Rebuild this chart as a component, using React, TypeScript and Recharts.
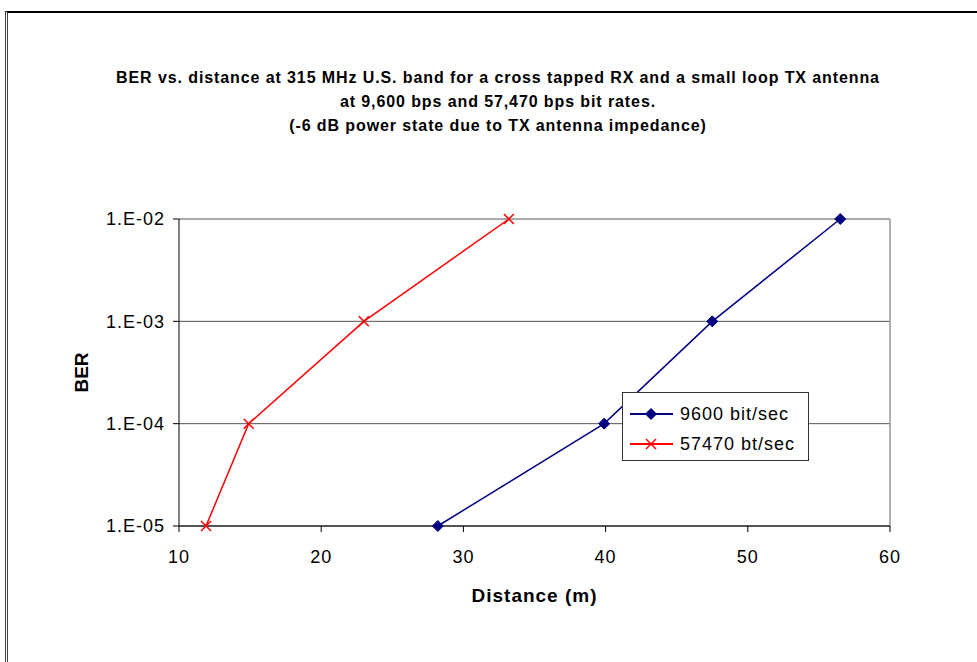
import React from 'react';
import { LineChart, Line, XAxis, YAxis, CartesianGrid, Legend, ReferenceLine } from 'recharts';

// BER vs distance
const berLevels = [1e-5, 1e-4, 1e-3, 1e-2];
const dist9600 = [28.2, 39.9, 47.5, 56.5];
const dist57470 = [11.9, 14.9, 23.0, 33.2];
const xTicks = [10, 20, 30, 40, 50, 60];
const yTicks = [1e-5, 1e-4, 1e-3, 1e-2];

const titleLines = [
  'BER vs. distance at 315 MHz U.S. band for a cross tapped RX and a small loop TX antenna',
  'at 9,600 bps and 57,470 bps bit rates.',
  '(-6 dB power state due to TX antenna impedance)',
];

const series = [
  { name: '9600 bit/sec', color: '#000080', shape: 'diamond', data: dist9600.map((d, i) => ({ distance: d, ber: berLevels[i] })) },
  { name: '57470 bt/sec', color: '#FF0000', shape: 'cross', data: dist57470.map((d, i) => ({ distance: d, ber: berLevels[i] })) },
];

const FONT = '"Liberation Sans", Arial, sans-serif';

const Diamond = ({ cx, cy, color }: { cx: number; cy: number; color: string }) => {
  const r = 5.5;
  return <path d={`M${cx},${cy - r}L${cx + r},${cy}L${cx},${cy + r}L${cx - r},${cy}Z`} fill={color} stroke={color} />;
};

const Cross = ({ cx, cy, color }: { cx: number; cy: number; color: string }) => {
  const r = 5;
  return (
    <g stroke={color} strokeWidth={1.5}>
      <line x1={cx - r} y1={cy - r} x2={cx + r} y2={cy + r} />
      <line x1={cx - r} y1={cy + r} x2={cx + r} y2={cy - r} />
    </g>
  );
};

const renderDot = (shape: string, color: string) => (props: any) => {
  const { cx, cy, index } = props;
  if (cx == null || cy == null) return <g key={index} />;
  return shape === 'diamond'
    ? <Diamond key={index} cx={cx} cy={cy} color={color} />
    : <Cross key={index} cx={cx} cy={cy} color={color} />;
};

const formatBer = (v: number) => {
  const exp = Math.round(Math.log10(v));
  const e = Math.abs(exp).toString().padStart(2, '0');
  return `1.E${exp < 0 ? '-' : '+'}${e}`;
};

const LegendBox = () => (
  <div
    style={{
      width: 187,
      height: 69,
      boxSizing: 'border-box',
      border: '1px solid #333',
      background: '#fff',
      fontFamily: FONT,
      fontSize: 18,
      letterSpacing: 1,
      color: '#000',
      paddingTop: 6,
    }}
  >
    {series.map((s) => (
      <div key={s.name} style={{ display: 'flex', alignItems: 'center', height: 30, paddingLeft: 7 }}>
        <svg width={44} height={14} style={{ marginRight: 6 }}>
          <line x1={0} y1={7} x2={43} y2={7} stroke={s.color} strokeWidth={2} />
          {s.shape === 'diamond' ? <Diamond cx={21} cy={7} color={s.color} /> : <Cross cx={21} cy={7} color={s.color} />}
        </svg>
        <span>{s.name}</span>
      </div>
    ))}
  </div>
);

export default function App() {
  return (
    <div style={{ position: 'absolute', left: 0, top: 0, width: 977, height: 662, overflow: 'hidden', background: '#fff' }}>
      <div
        style={{
          position: 'absolute',
          left: 5,
          top: 11,
          width: 1000,
          height: 700,
          borderTop: '2px solid #000',
          borderLeft: '3px double #444',
        }}
      />
      <div style={{ position: 'absolute', left: 0, top: 66, width: 996, textAlign: 'center', fontFamily: FONT, fontWeight: 'bold', fontSize: 16, letterSpacing: 0.9, lineHeight: '24px', color: '#000' }}>
        {titleLines.map((t) => (
          <div key={t}>{t}</div>
        ))}
      </div>
      <div style={{ position: 'absolute', left: 0, top: 0 }}>
        <LineChart width={977} height={662} margin={{ top: 219, right: 87, left: 79, bottom: 76 }}>
          <CartesianGrid horizontal vertical={false} stroke="#555" />
          <ReferenceLine x={60} stroke="#999" strokeWidth={1.5} />
          <XAxis
            type="number"
            dataKey="distance"
            domain={[10, 60]}
            ticks={xTicks}
            height={60}
            stroke="#000"
            tickSize={6}
            tickMargin={18}
            tick={{ fill: '#000', fontSize: 18, fontFamily: FONT, letterSpacing: 1 }}
            label={{
              content: ({ viewBox }: any) => (
                <text x={viewBox.x + viewBox.width / 2} y={viewBox.y + 76} textAnchor="middle" fontFamily={FONT} fontWeight="bold" fontSize={19} letterSpacing={1} fill="#000">
                  Distance (m)
                </text>
              ),
            }}
          />
          <YAxis
            type="number"
            dataKey="ber"
            scale="log"
            domain={[1e-5, 1e-2]}
            ticks={yTicks}
            width={100}
            stroke="#000"
            tickSize={6}
            tickMargin={8}
            tickFormatter={formatBer}
            tick={{ fill: '#000', fontSize: 18, fontFamily: FONT, letterSpacing: 1 }}
            label={{
              content: ({ viewBox }: any) => {
                const cx = 88;
                const cy = viewBox.y + viewBox.height / 2;
                return (
                  <text x={cx} y={cy} textAnchor="middle" transform={`rotate(-90 ${cx} ${cy})`} fontFamily={FONT} fontWeight="bold" fontSize={19} fill="#000">
                    BER
                  </text>
                );
              },
            }}
          />
          {series.map((s) => (
            <Line
              key={s.name}
              data={s.data}
              dataKey="ber"
              name={s.name}
              type="linear"
              stroke={s.color}
              strokeWidth={1.5}
              dot={renderDot(s.shape, s.color)}
              activeDot={false}
              isAnimationActive={false}
            />
          ))}
          <Legend
            layout="horizontal"
            verticalAlign="middle"
            align="center"
            wrapperStyle={{ left: 622, top: 392, width: 187, height: 69 }}
            content={() => <LegendBox />}
          />
        </LineChart>
      </div>
    </div>
  );
}
